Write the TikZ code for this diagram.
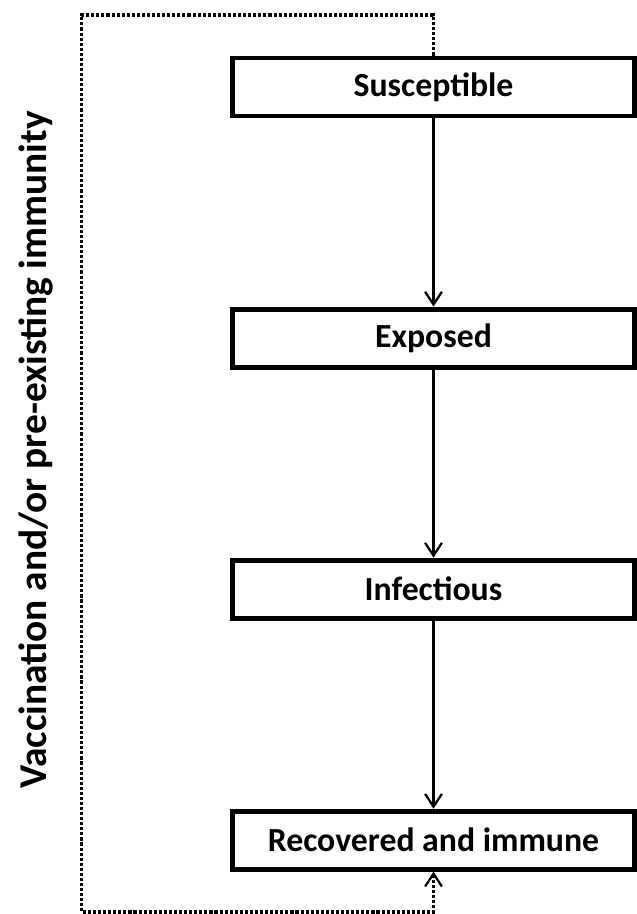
\documentclass[tikz,border=0pt]{standalone}
\usepackage{fontspec}
\setmainfont{Carlito}
\usetikzlibrary{positioning,arrows.meta}

\begin{document}
\begin{tikzpicture}[x=0.025cm, y=-0.025cm, node distance=6.275cm, on grid,
  compartment/.style={draw, line width=3.5pt, minimum width=10.05cm,
    minimum height=1.45cm, inner sep=0pt, font=\fontsize{24}{28}\selectfont\bfseries},
  flow/.style={line width=1.6pt, -{Straight Barb[length=0.32cm, width=0.42cm, line width=1.6pt]}},
  vacc/.style={line width=2.2pt, dash pattern=on 2.2pt off 1.4pt,
    -{Straight Barb[length=0.32cm, width=0.42cm, line width=1.6pt]}}]
  \useasboundingbox (0,0) rectangle (637,914);
  \node[compartment] (sus) at (433.5,87) {Susceptible};
  \node[compartment] (exp) [below=of sus] {Exposed};
  \node[compartment] (inf) [below=of exp] {Infectious};
  \node[compartment] (rec) [below=of inf] {Recovered and immune};

  \path (sus) edge[flow] (exp);
  \path (exp) edge[flow] (inf);
  \path (inf) edge[flow] (rec);

  % vaccination loop
  \coordinate (ctop) at (81.5,15);
  \coordinate (cbot) at (81.5,912);
  \draw[vacc] (sus.north) |- (ctop) -- (cbot) -| (rec.south);
  \node[rotate=90, font=\fontsize{28}{32}\selectfont\bfseries] (vlabel) at (36,450)
    {Vaccination and/or pre-existing immunity};
\end{tikzpicture}
\end{document}
